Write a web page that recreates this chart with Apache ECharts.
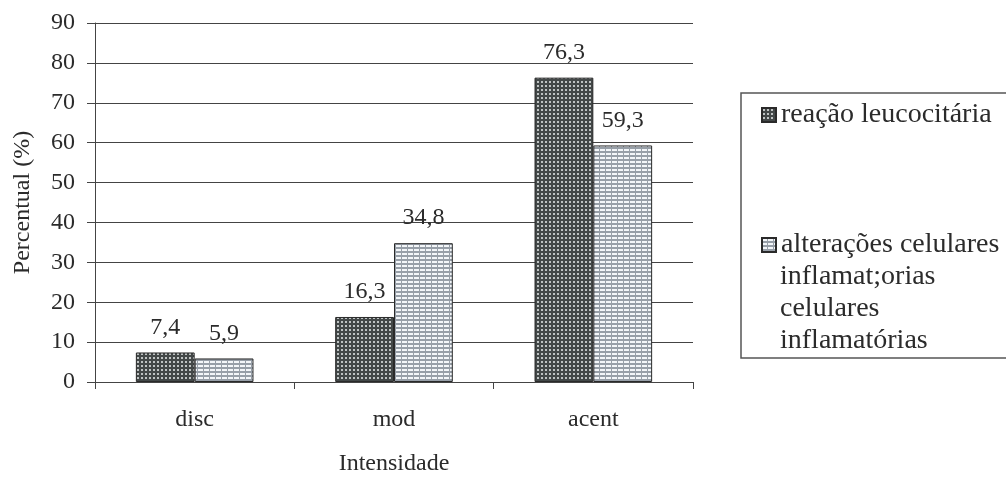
<!DOCTYPE html>
<html>
<head>
<meta charset="utf-8">
<script src="https://cdn.jsdelivr.net/npm/echarts@6/dist/echarts.min.js"></script>
<style>
  html, body { margin: 0; padding: 0; background: #fff; }
  #chart { width: 1006px; height: 481px; }
</style>
</head>
<body>
<div id="chart"></div>
<script>
// Intensity categories and the two measured percentages
const categories = ['disc', 'mod', 'acent'];
const reacaoLeucocitaria = [7.4, 16.3, 76.3];
const alteracoesCelulares = [5.9, 34.8, 59.3];
const seriesNames = [
  'reação leucocitária',
  'alterações celulares\ninflamat;orias\ncelulares\ninflamatórias'
];
const yTicks = { min: 0, max: 90, interval: 10 };

// Hatch fills for the bars, built as small repeating canvas tiles
function dotPattern() {
  const c = document.createElement('canvas');
  c.width = 4; c.height = 4;
  const g = c.getContext('2d');
  g.fillStyle = '#434848';
  g.fillRect(0, 0, 4, 4);
  g.fillStyle = '#bfc3c3';
  g.fillRect(1, 1, 2, 2);
  return c;
}
function dashPattern() {
  const c = document.createElement('canvas');
  c.width = 6; c.height = 4;
  const g = c.getContext('2d');
  g.fillStyle = '#979fa8';
  g.fillRect(0, 0, 6, 4);
  g.fillStyle = '#f3f6f9';
  g.fillRect(0, 1, 5, 2);
  return c;
}

const fontFamily = '"Liberation Serif", "DejaVu Serif", serif';
const textColor = '#2b2b2b';
const lineColor = '#444';
const axisFont = 24;
const legendFont = 28;
const legendLine = 32;
const fmt = v => v.toFixed(1).replace('.', ',');

// Legend box geometry: the first line of each entry sits beside its swatch,
// the remaining lines of a multi-line name continue underneath.
const legendBox = { left: 741, top: 93 };
const legendPad = [6, 14, 97, 20];
const legendGap = 98;
const swatch = 14;
const legendTextX = legendBox.left + legendPad[3] + swatch + 5;
const secondItemTop = legendBox.top + legendPad[0] + legendLine + legendGap;
const extraLines = seriesNames[1].split('\n').slice(1);

const chart = echarts.init(document.getElementById('chart'));
chart.setOption({
  animation: false,
  backgroundColor: '#fff',
  textStyle: { fontFamily: fontFamily, color: textColor },
  grid: { left: 95, top: 23, right: 313, bottom: 98 },
  legend: {
    orient: 'vertical',
    left: legendBox.left,
    top: legendBox.top,
    padding: legendPad,
    borderColor: '#555',
    borderWidth: 1.5,
    itemWidth: swatch,
    itemHeight: swatch,
    itemGap: legendGap,
    icon: 'rect',
    formatter: name => name.split('\n')[0],
    textStyle: { fontFamily: fontFamily, fontSize: legendFont, color: textColor, lineHeight: legendLine },
    data: seriesNames
  },
  graphic: extraLines.map((line, i) => ({
    type: 'text',
    left: legendTextX,
    top: secondItemTop + legendLine * (i + 1),
    silent: true,
    style: {
      text: line,
      fontFamily: fontFamily,
      fontSize: legendFont,
      lineHeight: legendLine,
      fill: textColor
    }
  })),
  xAxis: {
    type: 'category',
    data: categories,
    name: 'Intensidade',
    nameLocation: 'middle',
    nameGap: 70,
    nameTextStyle: { fontFamily: fontFamily, fontSize: axisFont, color: textColor },
    axisLine: { lineStyle: { color: lineColor, width: 1 } },
    axisTick: { show: true, alignWithLabel: false, length: 7, lineStyle: { color: lineColor } },
    axisLabel: { fontFamily: fontFamily, fontSize: axisFont, color: textColor, margin: 26 }
  },
  yAxis: {
    type: 'value',
    min: yTicks.min,
    max: yTicks.max,
    interval: yTicks.interval,
    name: 'Percentual (%)',
    nameLocation: 'middle',
    nameGap: 60,
    nameRotate: 90,
    nameTextStyle: { fontFamily: fontFamily, fontSize: axisFont, color: textColor },
    axisLine: { show: true, lineStyle: { color: lineColor, width: 1 } },
    axisTick: { show: true, length: 8, lineStyle: { color: lineColor } },
    axisLabel: { fontFamily: fontFamily, fontSize: axisFont, color: textColor, margin: 20 },
    splitLine: { show: true, lineStyle: { color: lineColor, width: 1 } }
  },
  series: [
    {
      name: seriesNames[0],
      type: 'bar',
      data: reacaoLeucocitaria,
      barGap: '0%',
      barCategoryGap: '41%',
      itemStyle: {
        color: { image: dotPattern(), repeat: 'repeat' },
        borderColor: '#2a2a2a',
        borderWidth: 1
      },
      label: {
        show: true, position: 'top', distance: 13,
        fontFamily: fontFamily, fontSize: axisFont, color: textColor,
        formatter: p => fmt(p.value)
      }
    },
    {
      name: seriesNames[1],
      type: 'bar',
      data: alteracoesCelulares,
      itemStyle: {
        color: { image: dashPattern(), repeat: 'repeat' },
        borderColor: '#2a2a2a',
        borderWidth: 1
      },
      label: {
        show: true, position: 'top', distance: 13,
        fontFamily: fontFamily, fontSize: axisFont, color: textColor,
        formatter: p => fmt(p.value)
      }
    }
  ]
});
</script>
</body>
</html>
